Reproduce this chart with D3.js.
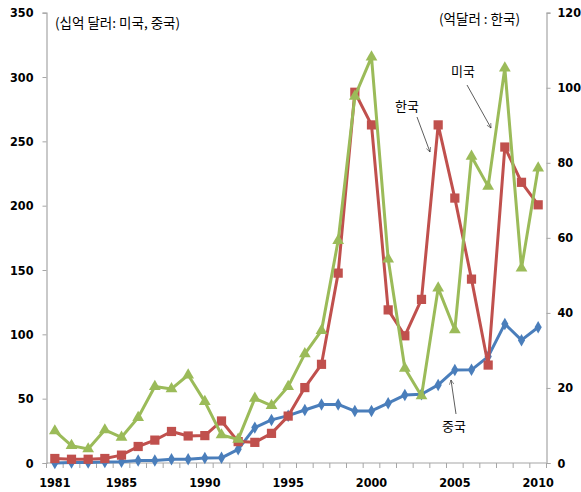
<!DOCTYPE html>
<html><head><meta charset="utf-8">
<script src="https://cdn.jsdelivr.net/npm/d3@7"></script>
<style>
body{margin:0;background:#fff;}
text{font-family:"Noto Sans CJK KR","Noto Sans",sans-serif;}
</style></head>
<body><svg id="c" width="581" height="492"></svg>
<script>
const years = d3.range(1981, 2011);
const xTickLabels = [1981, 1985, 1990, 1995, 2000, 2005, 2010];
const leftTicks = [0, 50, 100, 150, 200, 250, 300, 350];
const rightTicks = [0, 20, 40, 60, 80, 100, 120];
// 중국 (십억 달러, left axis)
const china = [0, 0.3, 0.4, 0.7, 1, 2, 2, 3, 3, 3.8, 4, 10.6, 27.5, 33.5, 36.8, 41.2, 45.5, 45.5, 40.4, 40.5, 46.5, 52.8, 53.4, 60.7, 72.3, 72.4, 82.7, 108.1, 95.5, 105.5];
// 미국 (십억 달러, left axis)
const usa = [24.9, 13.5, 10.9, 25.7, 20, 35.3, 59.4, 57.6, 68.4, 47.7, 21.8, 18.4, 50.3, 44.6, 59.4, 84.8, 102.9, 172.9, 285, 315.5, 158.5, 73.6, 52.1, 135.9, 103.4, 238.3, 215, 307, 151.4, 229.2];
// 한국 (억달러, right axis)
const korea = [1.2, 1, 1, 1.2, 2.1, 4.4, 6.1, 8.4, 7.2, 7.3, 11.2, 5.7, 5.5, 7.9, 12.5, 20.1, 26.3, 50.6, 98.8, 90.1, 40.8, 33.9, 43.6, 90.1, 70.6, 49, 26.1, 84.2, 74.8, 68.8];

const svg = d3.select('#c');
const L = 46.5, R = 546.5, T = 12.7, B = 463;
const x = d3.scaleBand().domain(years).range([L, R]).padding(0);
const cx = d => x(d) + x.bandwidth() / 2;
const yL = d3.scaleLinear().domain([0, 350]).range([B, T]);
const yR = d3.scaleLinear().domain([0, 120]).range([B, T]);
const axisCol = '#a6a6a6';

// left axis
const gl = svg.append('g').attr('transform', `translate(${L},0)`)
  .call(d3.axisLeft(yL).tickValues(leftTicks).tickSize(4).tickPadding(9));
// right axis
const gr = svg.append('g').attr('transform', `translate(${R},0)`)
  .call(d3.axisRight(yR).tickValues(rightTicks).tickSize(4).tickPadding(7));
// bottom axis
const gb = svg.append('g').attr('transform', `translate(0,${B})`)
  .call(d3.axisBottom(x).tickValues(xTickLabels).tickSize(0).tickPadding(15));
[gl, gr, gb].forEach(g => {
  g.select('.domain').attr('stroke', axisCol).attr('stroke-width', 1.2);
  g.selectAll('.tick line').attr('stroke', axisCol);
  g.selectAll('.tick text').attr('fill', '#000').style('font-size', '12.5px').style('font-weight', 'bold')
    .style('font-family', '"Liberation Sans Narrow","DejaVu Sans Condensed","Noto Sans",sans-serif');
});
gb.select('.domain').attr('d', `M${L},0H${R}`);
// category boundary ticks
svg.append('g').selectAll('line').data(years.concat([null])).join('line')
  .attr('x1', d => d === null ? R : x(d)).attr('x2', d => d === null ? R : x(d))
  .attr('y1', B).attr('y2', B + 5).attr('stroke', axisCol);

function series(data, y, color, marker) {
  const line = d3.line().x((d, i) => cx(years[i])).y(d => y(d));
  svg.append('path').datum(data).attr('d', line).attr('fill', 'none')
    .attr('stroke', color).attr('stroke-width', 3).attr('stroke-linejoin', 'round');
  const g = svg.append('g');
  g.selectAll('path').data(data).join('path')
    .attr('transform', (d, i) => `translate(${cx(years[i])},${y(d)})`)
    .attr('d', d3.symbol().type(marker.type).size(marker.size))
    .attr('fill', color);
}
series(china, yL, '#4a7ebb', {type: d3.symbolDiamond, size: 45});
series(korea, yR, '#c0504d', {type: d3.symbolSquare, size: 85});
series(usa, yL, '#9bbb59', {type: d3.symbolTriangle, size: 60});

// titles
svg.append('text').attr('x', 55).attr('y', 28).text('(십억 달러: 미국, 중국)')
  .style('font-size', '13.5px').attr('fill', '#000');
svg.append('text').attr('x', 439).attr('y', 24).text('(억달러 : 한국)')
  .style('font-size', '13.5px').attr('fill', '#000');

// annotations
const defs = svg.append('defs');
defs.append('marker').attr('id', 'ah').attr('viewBox', '0 0 10 10').attr('refX', 9).attr('refY', 5)
  .attr('markerWidth', 7).attr('markerHeight', 7).attr('orient', 'auto')
  .append('path').attr('d', 'M1,1L9,5L1,9').attr('fill', 'none').attr('stroke', '#333').attr('stroke-width', 1);
const notes = [
  {t: '한국', tx: 407, ty: 111, x1: 417, y1: 117, x2: 430, y2: 152},
  {t: '미국', tx: 463, ty: 76, x1: 467, y1: 85, x2: 491, y2: 128},
  {t: '중국', tx: 454, ty: 431, x1: 456, y1: 414, x2: 451, y2: 380}
];
notes.forEach(n => {
  svg.append('text').attr('x', n.tx).attr('y', n.ty).attr('text-anchor', 'middle')
    .text(n.t).style('font-size', '13px').attr('fill', '#000');
  svg.append('line').attr('x1', n.x1).attr('y1', n.y1).attr('x2', n.x2).attr('y2', n.y2)
    .attr('stroke', '#333').attr('stroke-width', 0.8).attr('marker-end', 'url(#ah)');
});
</script></body></html>
